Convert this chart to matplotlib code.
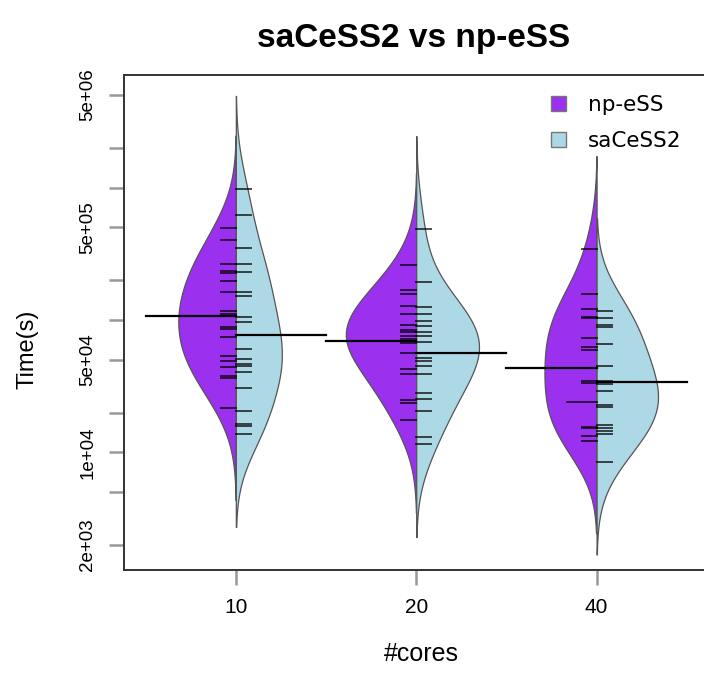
import numpy as np
import matplotlib.pyplot as plt
from matplotlib.patches import Patch

plt.rcParams['font.family'] = ['Liberation Sans', 'DejaVu Sans']

# data (seconds)
cores = ['10', '20', '40']

np_10 = [4.94e5, 4.04e5, 2.65e5, 2.36e5, 2.25e5, 1.98e5, 1.64e5, 1.17e5, 1.11e5, 1.07e5,
         8.79e4, 8.55e4, 7.38e4, 5.36e4, 4.91e4, 4.38e4, 3.78e4, 3.63e4, 2.18e4]
np_20 = [2.58e5, 1.67e5, 1.57e5, 1.28e5, 1.11e5, 9.2e4, 8.39e4, 8.05e4, 7.6e4, 7.18e4,
         6.97e4, 6.76e4, 5.68e4, 4.26e4, 3.9e4, 2.48e4, 2.38e4, 1.75e4]
np_40 = [3.45e5, 1.57e5, 1.21e5, 1.06e5, 1.04e5, 7.3e4, 6.2e4, 5.92e4, 4.33e4, 3.47e4,
         3.33e4, 2.4e4, 2.4e4, 1.55e4, 1.52e4, 1.33e4, 1.23e4]

sa_10 = [9.82e5, 6.17e5, 3.51e5, 2.65e5, 2.29e5, 1.64e5, 1.51e5, 1.06e5, 9.66e4, 7.73e4,
         6.03e4, 5.06e4, 4.63e4, 4.51e4, 4.06e4, 3.08e4, 2.06e4, 1.63e4, 1.58e4, 1.37e4]
sa_20 = [4.89e5, 1.93e5, 1.26e5, 1.11e5, 9.87e4, 9.06e4, 8.05e4, 7.6e4, 6.84e4, 5.62e4,
         5.15e4, 4.91e4, 4.51e4, 3.9e4, 2.82e4, 2.52e4, 2.06e4, 1.31e4, 1.15e4]
sa_40 = [1.17e5, 1.03e5, 9.2e4, 8.79e4, 6.58e4, 4.51e4, 3.47e4, 3.39e4, 3.27e4, 2.91e4,
         2.28e4, 2.21e4, 1.61e4, 1.53e4, 1.45e4, 1.38e4, 8.49e3]

# bean averages (mean line)
np_mean = [1.07e5, 6.97e4, 4.33e4]
sa_mean = [7.73e4, 5.62e4, 3.43e4]

np_data = [np_10, np_20, np_40]
sa_data = [sa_10, sa_20, sa_40]

purple = '#9B30EE'
lblue = '#ADD8E6'
bw = 0.27      # bandwidth in log10 units
ext = 0.70     # how far the density runs past the data (log10 units)
maxw = 0.39    # widest half-bean, in x units


def kde(vals, bw):
    lv = np.log10(vals)
    grid = np.linspace(lv.min() - ext, lv.max() + ext, 300)
    d = np.exp(-0.5 * ((grid[:, None] - lv[None, :]) / bw) ** 2).sum(axis=1)
    d = d / (len(lv) * bw * np.sqrt(2 * np.pi))
    return grid, d


dens_np = [kde(v, bw) for v in np_data]
dens_sa = [kde(v, bw) for v in sa_data]
dmax = max([d.max() for g, d in dens_np + dens_sa])
scale = maxw / dmax

fig = plt.figure(figsize=(7.04, 6.91), dpi=100)
ax = fig.add_axes([124 / 704, 1 - 570 / 691, 579 / 704, 495 / 691])

for i in range(3):
    c = i + 1
    g, d = dens_np[i]
    ax.fill_betweenx(10 ** g, c - d * scale, c, facecolor=purple,
                     edgecolor='#555555', linewidth=0.9)
    g, d = dens_sa[i]
    ax.fill_betweenx(10 ** g, c, c + d * scale, facecolor=lblue,
                     edgecolor='#555555', linewidth=0.9)

    vals, cnt = np.unique(np_data[i], return_counts=True)
    for v, n in zip(vals, cnt):
        ax.plot([c - 0.083 * n, c], [v, v], color='black', alpha=0.7, lw=1.4)
    vals, cnt = np.unique(sa_data[i], return_counts=True)
    for v, n in zip(vals, cnt):
        ax.plot([c, c + 0.083 * n], [v, v], color='black', alpha=0.7, lw=1.4)

    ax.plot([c - 0.5, c], [np_mean[i], np_mean[i]], color='black', lw=1.6)
    ax.plot([c, c + 0.5], [sa_mean[i], sa_mean[i]], color='black', lw=1.6)

ax.set_yscale('log')
ax.set_ylim(10 ** 3.112, 10 ** 6.85)
ax.set_xlim(0.38, 3.59)

yt = [2e3, 5e3, 1e4, 2e4, 5e4, 1e5, 2e5, 5e5, 1e6, 2e6, 5e6]
ylab = ['2e+03', '', '1e+04', '', '5e+04', '', '', '5e+05', '', '', '5e+06']
ax.set_yticks(yt)
ax.set_yticklabels(ylab, rotation=90, va='center', fontsize=13.5)
ax.minorticks_off()
ax.set_xticks([1, 2, 3])
ax.set_xticklabels(cores, fontsize=15)
ax.tick_params(length=11, width=1.8, color='#999999', pad=9)

for s in ['left', 'bottom', 'top']:
    ax.spines[s].set_color('#333333')
    ax.spines[s].set_linewidth(1.4)
ax.spines['right'].set_visible(False)

ax.set_title('saCeSS2 vs np-eSS', fontsize=24, fontweight='bold', pad=20)
ax.set_ylabel('Time(s)', fontsize=17)
ax.yaxis.set_label_coords(-0.148, 0.445)
ax.set_xlabel('#cores', fontsize=18)
ax.xaxis.set_label_coords(0.513, -0.145)

handles = [Patch(facecolor=purple, edgecolor='#777777', label='np-eSS'),
           Patch(facecolor=lblue, edgecolor='#777777', label='saCeSS2')]
fig.legend(handles=handles, loc='upper left', bbox_to_anchor=(532 / 704, 1 - 76 / 691),
           frameon=False, prop={'family': 'DejaVu Sans', 'size': 15.5},
           handlelength=0.7, handleheight=0.7, labelspacing=0.72, handletextpad=1.0)

fig.savefig('out.png', dpi=100)
